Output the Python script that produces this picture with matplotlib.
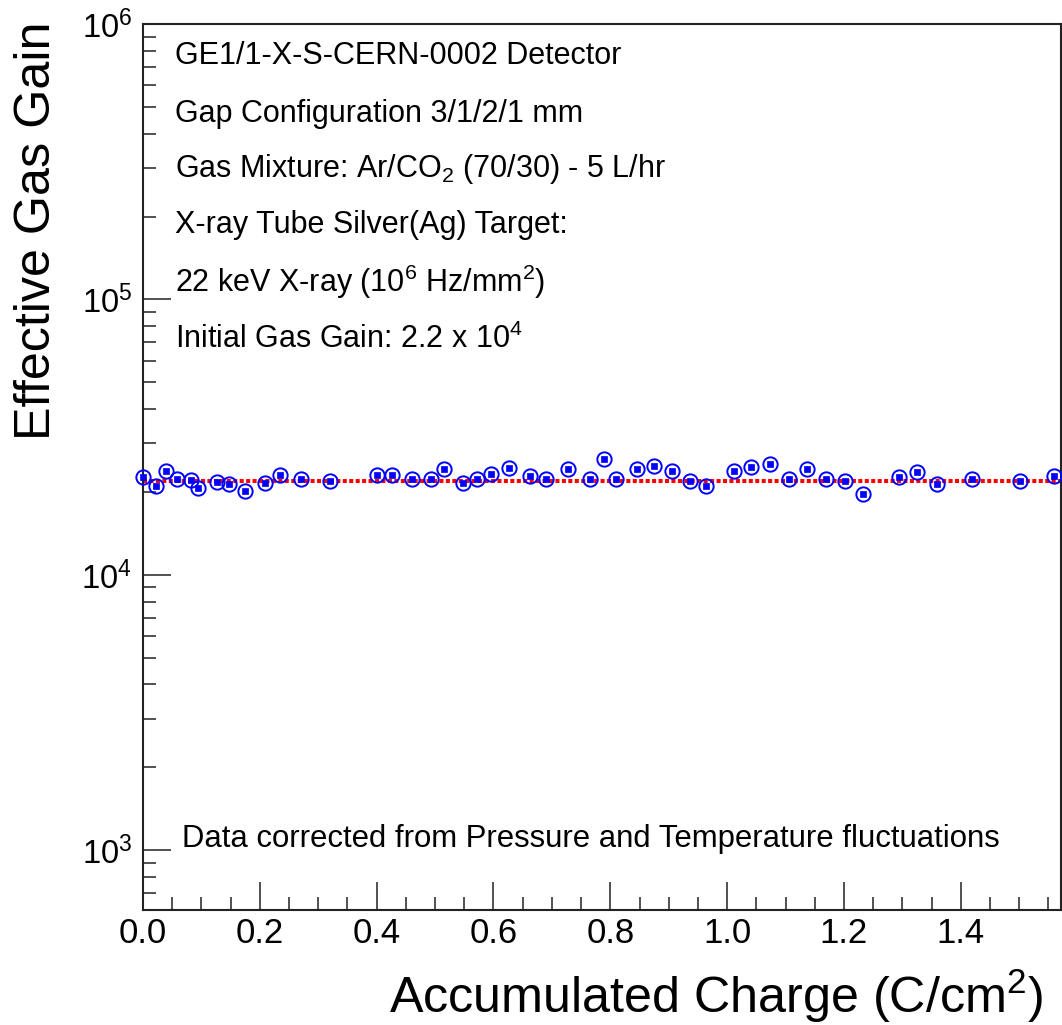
import math
import matplotlib
matplotlib.use("Agg")
import matplotlib.pyplot as plt
from matplotlib.ticker import MultipleLocator, LogLocator, NullFormatter, FuncFormatter

plt.rcParams["font.family"] = ["Liberation Sans", "DejaVu Sans"]
plt.rcParams["mathtext.fontset"] = "custom"
plt.rcParams["mathtext.rm"] = "Liberation Sans"
plt.rcParams["mathtext.it"] = "Liberation Sans:italic"
plt.rcParams["mathtext.bf"] = "Liberation Sans:bold"

# Accumulated charge (C/cm^2) and measured effective gas gain
charge = [0.000, 0.022, 0.039, 0.059, 0.082, 0.095, 0.127, 0.148, 0.175, 0.209,
          0.234, 0.270, 0.320, 0.400, 0.426, 0.460, 0.493, 0.516, 0.547, 0.571,
          0.596, 0.627, 0.662, 0.690, 0.728, 0.765, 0.789, 0.810, 0.846, 0.874,
          0.905, 0.936, 0.964, 1.011, 1.040, 1.074, 1.106, 1.136, 1.170, 1.202,
          1.233, 1.295, 1.325, 1.360, 1.419, 1.501, 1.560]
gain = [2.26e4, 2.10e4, 2.39e4, 2.22e4, 2.21e4, 2.07e4, 2.17e4, 2.13e4, 2.02e4, 2.16e4,
        2.31e4, 2.22e4, 2.20e4, 2.31e4, 2.30e4, 2.22e4, 2.22e4, 2.42e4, 2.16e4, 2.22e4,
        2.32e4, 2.45e4, 2.28e4, 2.22e4, 2.42e4, 2.22e4, 2.63e4, 2.22e4, 2.42e4, 2.49e4,
        2.39e4, 2.19e4, 2.10e4, 2.39e4, 2.46e4, 2.53e4, 2.22e4, 2.42e4, 2.22e4, 2.20e4,
        1.97e4, 2.26e4, 2.36e4, 2.14e4, 2.22e4, 2.20e4, 2.29e4]
initial_gain = 2.2e4

x_range = (0.0, 1.571)
y_range = (607, 1e6)

info_lines = [
    "GE1/1-X-S-CERN-0002 Detector",
    "Gap Configuration 3/1/2/1 mm",
    "Gas Mixture: Ar/CO$_2$ (70/30) - 5 L/hr",
    "X-ray Tube Silver(Ag) Target:",
    "22 keV X-ray (10$^6$ Hz/mm$^2$)",
    "Initial Gas Gain: 2.2 x 10$^4$",
]
note = "Data corrected from Pressure and Temperature fluctuations"

W, H = 1062, 1025
fig = plt.figure(figsize=(W / 100, H / 100), dpi=100)
ax = fig.add_axes([143 / W, 1 - 910 / H, (1060.7 - 143) / W, (910 - 24) / H])

ax.set_yscale("log")
ax.set_xlim(*x_range)
ax.set_ylim(*y_range)

# constant reference line at the initial gain
ax.axhline(initial_gain, color="red", lw=2.9, linestyle=(0, (1, 0.6)), zorder=2)

# open circle with a small filled square in its centre
ax.plot(charge, gain, linestyle="none", marker="o", markersize=10.3,
        markerfacecolor="none", markeredgecolor="blue", markeredgewidth=1.4,
        clip_on=False, zorder=3)
ax.plot(charge, gain, linestyle="none", marker="s", markersize=4.0,
        markerfacecolor="blue", markeredgecolor="blue", markeredgewidth=0.5,
        clip_on=False, zorder=4)

for s in ax.spines.values():
    s.set_linewidth(1.5)
    s.set_color("#222222")

ax.xaxis.set_major_locator(MultipleLocator(0.2))
ax.xaxis.set_minor_locator(MultipleLocator(0.05))
ax.xaxis.set_major_formatter(FuncFormatter(lambda v, p: f"{v:.1f}"))
ax.yaxis.set_major_locator(LogLocator(base=10, numticks=20))
ax.yaxis.set_minor_locator(LogLocator(base=10, subs=range(2, 10), numticks=20))
ax.yaxis.set_minor_formatter(NullFormatter())
ax.yaxis.set_major_formatter(
    FuncFormatter(lambda v, p: f"$10^{{{int(round(math.log10(v)))}}}$"))

ax.tick_params(axis="both", which="both", direction="in", top=False, right=False,
               color="#222222", width=1.1)
ax.tick_params(axis="both", which="major", length=20)
ax.tick_params(axis="both", which="minor", length=9.5)
ax.tick_params(axis="x", which="major", labelsize=25, pad=5)
ax.tick_params(axis="y", which="major", labelsize=23.5, pad=8)

# axis titles
fig.text(1043 / W, 1 - 1013 / H, "Accumulated Charge (C/cm$^2$)", fontsize=36.2,
         ha="right", va="baseline")
fig.text(50 / W, 1 - 22 / H, "Effective Gas Gain", fontsize=36.2, rotation=90,
         rotation_mode="anchor", ha="right", va="baseline")

# detector information
baselines = [64.3, 121.7, 176.7, 233, 291.7, 348]
for line, yb in zip(info_lines, baselines):
    fig.text(175 / W, 1 - yb / H, line, fontsize=22, ha="left", va="baseline")
fig.text(182 / W, 1 - 846.7 / H, note, fontsize=22.4, ha="left", va="baseline")

fig.savefig("out.png", dpi=100)
